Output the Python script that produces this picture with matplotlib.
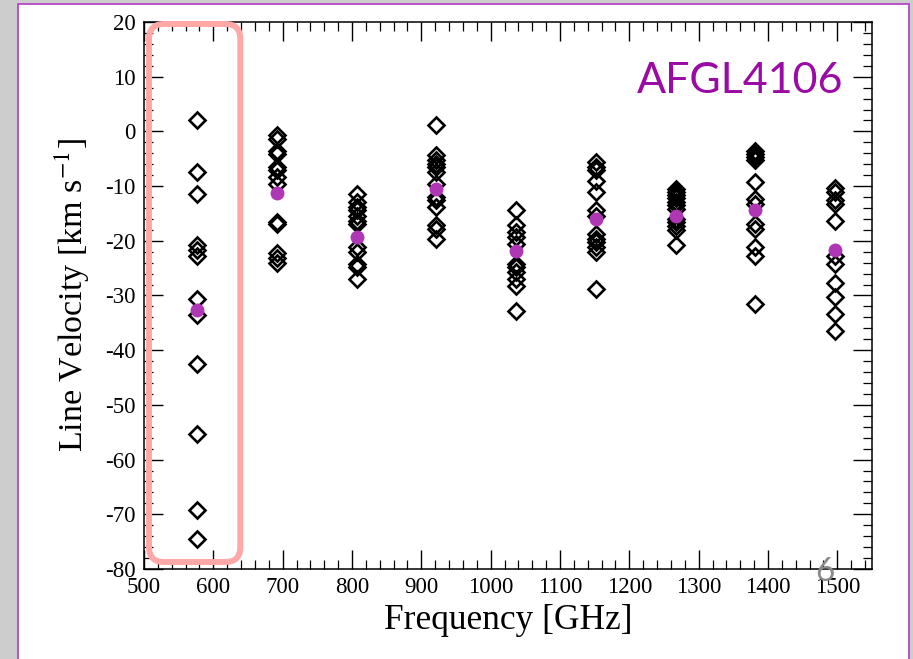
import matplotlib
matplotlib.use('Agg')
import matplotlib.pyplot as plt
from matplotlib.patches import Rectangle, FancyBboxPatch
from matplotlib.ticker import MultipleLocator

FREQUENZEN = [576.3, 691.5, 806.7, 921.8, 1036.9, 1152.0, 1267.0, 1381.9, 1496.9]

V_576 = [2.0, -7.4, -11.5, -20.8, -21.7, -22.7, -30.7, -33.5, -42.5, -55.3, -69.2, -74.5]
V_692 = [-0.7, -1.3, -3.6, -4.1, -6.5, -7.1, -8.4, -9.6, -16.6, -17.0, -22.2, -23.1, -24.1]
V_807 = [-11.4, -12.9, -13.8, -14.4, -15.4, -16.3, -16.9, -21.2, -22.1, -24.2, -24.8, -26.9]
V_922 = [1.1, -4.4, -5.3, -5.9, -6.5, -7.4, -9.6, -12.0, -12.6, -13.8, -17.2, -17.8, -19.6]
V_1037 = [-14.4, -17.2, -18.4, -19.3, -20.5, -24.2, -24.8, -25.7, -26.9, -28.2, -32.9]
V_1152 = [-5.6, -6.5, -7.1, -9.0, -11.1, -14.4, -15.4, -18.7, -19.6, -20.2, -21.2, -22.1, -28.8]
V_1267 = [-10.5, -11.0, -11.6, -12.1, -12.9, -13.5, -14.2, -16.0, -16.6, -17.3, -18.0, -20.8]
V_1382 = [-3.6, -4.1, -4.6, -5.2, -9.3, -12.3, -13.2, -16.9, -17.8, -21.2, -22.7, -31.6]
V_1497 = [-10.3, -11.1, -12.6, -13.2, -16.3, -22.7, -24.2, -27.7, -30.2, -33.3, -36.5]

GESCHWINDIGKEITEN = [V_576, V_692, V_807, V_922, V_1037, V_1152, V_1267, V_1382, V_1497]

# Mittelwerte (violette Punkte)
MITTELWERTE = [-32.6, -11.3, -19.3, -10.5, -21.9, -16.1, -15.5, -14.4, -21.6]

X_TICKS = list(range(500, 1501, 100))


def erstelle_plot():
    plt.rcParams['font.family'] = 'Liberation Serif'
    plt.rcParams['mathtext.fontset'] = 'stix'
    plt.rcParams['axes.unicode_minus'] = False

    fig = plt.figure(figsize=(9.13, 6.59), dpi=100)
    fig.patch.set_facecolor('#cdcdcd')

    # weisse Folienflaeche mit violettem Rand
    panel = Rectangle((0.0197, -0.05), 0.9759, 1.0439, transform=fig.transFigure,
                      facecolor='white', edgecolor='#b846c8', linewidth=1.3, zorder=-1)
    fig.add_artist(panel)

    ax = fig.add_axes([0.1577, 0.1366, 0.7974, 0.8300])

    for f, werte in zip(FREQUENZEN, GESCHWINDIGKEITEN):
        ax.plot([f] * len(werte), werte, linestyle='none', marker='D', markersize=7.8,
                markerfacecolor='none', markeredgecolor='black', markeredgewidth=1.9, zorder=3)
    ax.plot(FREQUENZEN, MITTELWERTE, linestyle='none', marker='o', markersize=10,
            color='#af36b4', markeredgewidth=0, zorder=4)

    ax.set_xlim(500, 1550)
    ax.set_ylim(-80, 20)
    ax.set_xticks(X_TICKS)
    ax.xaxis.set_minor_locator(MultipleLocator(20))
    ax.yaxis.set_major_locator(MultipleLocator(10))
    ax.yaxis.set_minor_locator(MultipleLocator(2))
    ax.tick_params(which='both', direction='in', top=True, right=True)
    ax.tick_params(which='major', length=13.5, width=1.0, labelsize=16.5, pad=6)
    ax.tick_params(which='minor', length=6.5, width=0.9)
    for s in ax.spines.values():
        s.set_linewidth(1.1)

    ax.set_xlabel('Frequency [GHz]', fontsize=25.5)
    ax.set_ylabel('Line Velocity [km s$^{-1}$]', fontsize=24.5)
    ax.xaxis.set_label_coords(0.5, -0.064)
    ax.yaxis.set_label_coords(-0.072, 0.5)

    # rosa Markierung um die 576 GHz Spalte
    box = FancyBboxPatch((1.49, 0.97), 0.913, 5.38, boxstyle='round,pad=0,rounding_size=0.15',
                         transform=fig.dpi_scale_trans, fill=False, edgecolor='#ffa8a8',
                         linewidth=4.3, zorder=5)
    fig.add_artist(box)

    fig.text(843 / 913, 1 - 93 / 659, 'AFGL4106', family='Lato', fontsize=31,
             color='#9a0ba6', ha='right', va='baseline')
    fig.text(825 / 913, 1 - 572 / 659, '6', family='Lato', fontsize=24,
             color='#8a8a8a', ha='center', va='center')

    fig.savefig('out.png', dpi=100)


def main():
    erstelle_plot()


if __name__ == '__main__':
    main()
